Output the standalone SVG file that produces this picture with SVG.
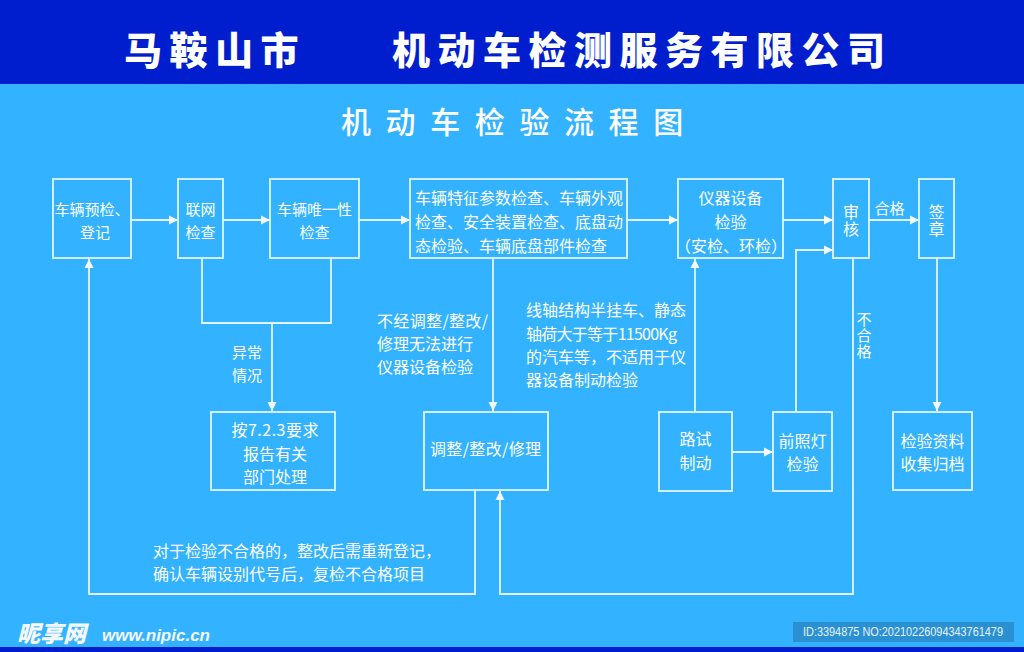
<svg xmlns="http://www.w3.org/2000/svg" width="1024" height="652" viewBox="0 0 1024 652">
<style>
.bg{fill:#33b3ff}
.hd{fill:#001ecd}
.box{fill:none;stroke:#e3f4ff;stroke-width:1.8}
.ln{fill:none;stroke:#e3f4ff;stroke-width:1.8}
text{font-family:"Noto Sans CJK SC","Noto Sans",sans-serif;fill:#ffffff}
.t15{font-size:15px}
.t16{font-size:16px}
.c{text-anchor:middle}
.v{writing-mode:vertical-rl;text-anchor:start}
.title{font-size:38px;font-weight:900;letter-spacing:7.5px}
.sub{font-size:30px;font-weight:500;letter-spacing:14.6px}
</style>
<defs>
<marker id="ah" markerUnits="userSpaceOnUse" markerWidth="10" markerHeight="10" refX="9" refY="5" orient="auto">
<path d="M0,0.5 L9,5 L0,9.5 Z" fill="#f2faff"/>
</marker>
</defs>
<rect class="bg" x="0" y="0" width="1024" height="652"/>
<rect class="hd" x="0" y="0" width="1024" height="84"/>
<rect class="hd" x="0" y="647" width="1024" height="5"/>
<g id="header">
<text class="title" x="124" y="64">马鞍山市</text>
<text class="title" x="392" y="64">机动车检测服务有限公司</text>
<text class="sub" x="341" y="133">机动车检验流程图</text>
</g>
<g id="connectors">
<line class="ln" x1="131" y1="220" x2="178" y2="220" marker-end="url(#ah)"/>
<line class="ln" x1="223" y1="220" x2="270" y2="220" marker-end="url(#ah)"/>
<line class="ln" x1="359" y1="220" x2="410" y2="220" marker-end="url(#ah)"/>
<line class="ln" x1="627" y1="220" x2="678" y2="220" marker-end="url(#ah)"/>
<line class="ln" x1="783" y1="220" x2="833" y2="220" marker-end="url(#ah)"/>
<line class="ln" x1="869" y1="220" x2="919" y2="220" marker-end="url(#ah)"/>
<polyline class="ln" points="202,258 202,323 331,323 331,258"/>
<line class="ln" x1="272" y1="323" x2="272" y2="411" marker-end="url(#ah)"/>
<line class="ln" x1="493" y1="258" x2="493" y2="411" marker-end="url(#ah)"/>
<polyline class="ln" points="475,490 475,594 89,594 89,259" marker-end="url(#ah)"/>
<polyline class="ln" points="853,258 853,594 500,594 500,491" marker-end="url(#ah)"/>
<line class="ln" x1="695" y1="412" x2="695" y2="259" marker-end="url(#ah)"/>
<line class="ln" x1="732" y1="452" x2="773" y2="452" marker-end="url(#ah)"/>
<polyline class="ln" points="796,412 796,250 833,250" marker-end="url(#ah)"/>
<line class="ln" x1="937" y1="258" x2="937" y2="411" marker-end="url(#ah)"/>
</g>
<g id="labels">
<text class="t15 c" x="889.5" y="214">合格</text>
<text class="t15" x="232" y="358">异常</text>
<text class="t15" x="232" y="381">情况</text>
<text class="t16" x="377" y="327" textLength="111" lengthAdjust="spacing">不经调整/整改/</text>
<text class="t16" x="377" y="350">修理无法进行</text>
<text class="t16" x="377" y="373">仪器设备检验</text>
<text class="t16" x="526" y="316">线轴结构半挂车、静态</text>
<text class="t16" x="526" y="339.5" textLength="151" lengthAdjust="spacing">轴荷大于等于11500Kg</text>
<text class="t16" x="526" y="362.5">的汽车等，不适用于仪</text>
<text class="t16" x="526" y="386">器设备制动检验</text>
<text class="t15 v" x="864" y="312" style="letter-spacing:1px">不合格</text>
<text class="t16" x="153" y="557">对于检验不合格的，整改后需重新登记，</text>
<text class="t16" x="153" y="580">确认车辆设别代号后，复检不合格项目</text>
</g>
<g id="n1">
<rect class="box" x="53" y="179" width="78" height="79"/>
<text class="t15 c" x="92" y="215">车辆预检、</text>
<text class="t15 c" x="95" y="238">登记</text>
</g>
<g id="n2">
<rect class="box" x="178" y="179" width="45" height="79"/>
<text class="t15 c" x="200.5" y="215">联网</text>
<text class="t15 c" x="200.5" y="238">检查</text>
</g>
<g id="n3">
<rect class="box" x="270" y="179" width="89" height="79"/>
<text class="t15 c" x="314.5" y="215">车辆唯一性</text>
<text class="t15 c" x="314.5" y="238">检查</text>
</g>
<g id="n4">
<rect class="box" x="410" y="179" width="217" height="79"/>
<text class="t16" x="415" y="204">车辆特征参数检查、车辆外观</text>
<text class="t16" x="415" y="228">检查、安全装置检查、底盘动</text>
<text class="t16" x="415" y="251.5">态检验、车辆底盘部件检查</text>
</g>
<g id="n5">
<rect class="box" x="678" y="179" width="105" height="79"/>
<text class="t16 c" x="730.5" y="204">仪器设备</text>
<text class="t16 c" x="730.5" y="228">检验</text>
<text class="t16 c" x="731" y="251.5">（安检、环检）</text>
</g>
<g id="n6">
<rect class="box" x="833" y="179" width="36" height="79"/>
<text class="t16 v" x="851" y="204" style="letter-spacing:1px">审核</text>
</g>
<g id="n7">
<rect class="box" x="919" y="179" width="35" height="79"/>
<text class="t16 v" x="936.5" y="204" style="letter-spacing:1px">签章</text>
</g>
<g id="n8">
<rect class="box" x="211" y="412" width="124" height="78"/>
<text class="t16 c" x="275" y="436" textLength="87" lengthAdjust="spacing">按7.2.3要求</text>
<text class="t16 c" x="275" y="460">报告有关</text>
<text class="t16 c" x="275" y="483">部门处理</text>
</g>
<g id="n9">
<rect class="box" x="424" y="412" width="124" height="78"/>
<text class="t16 c" x="485.5" y="455" textLength="111" lengthAdjust="spacing">调整/整改/修理</text>
</g>
<g id="n10">
<rect class="box" x="659" y="412" width="73" height="79"/>
<text class="t16 c" x="695.5" y="445">路试</text>
<text class="t16 c" x="695.5" y="468.5">制动</text>
</g>
<g id="n11">
<rect class="box" x="773" y="412" width="59" height="79"/>
<text class="t16 c" x="802.5" y="446.5">前照灯</text>
<text class="t16 c" x="802.5" y="470">检验</text>
</g>
<g id="n12">
<rect class="box" x="893" y="412" width="79" height="78"/>
<text class="t16 c" x="932.5" y="447">检验资料</text>
<text class="t16 c" x="932.5" y="470">收集归档</text>
</g>
<g id="watermark">
<text x="17" y="642" style="font-size:23px;font-weight:900;font-style:italic;fill:#f4f8ff">昵享网</text>
<text x="102" y="641" style="font-family:'Liberation Sans',sans-serif;font-size:17px;font-weight:bold;font-style:italic;fill:#f4f8ff">www.nipic.cn</text>
<rect x="793" y="622" width="221" height="20" fill="#2b90d2"/>
<text x="803" y="636" textLength="200" lengthAdjust="spacingAndGlyphs" style="font-family:'Liberation Sans',sans-serif;font-size:12px;fill:#e6f3ff">ID:3394875 NO:20210226094343761479</text>
</g>
</svg>
